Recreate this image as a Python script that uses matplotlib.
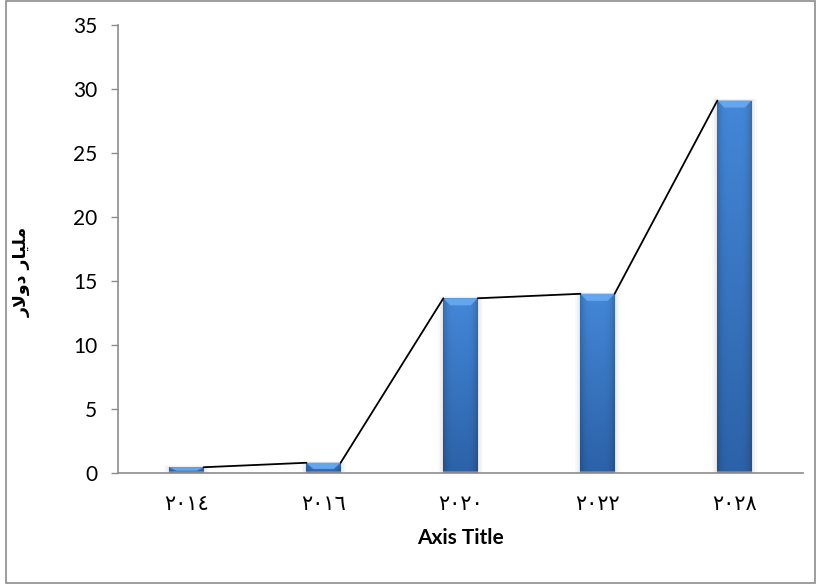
import matplotlib
matplotlib.use("Agg")
import matplotlib.pyplot as plt
import numpy as np
from matplotlib.patches import Rectangle, Polygon
from matplotlib.colors import to_rgb

# data
years = ["٢٠١٤", "٢٠١٦", "٢٠٢٠", "٢٠٢٢", "٢٠٢٨"]
values = [0.45, 0.8, 13.65, 14.0, 29.1]
y_ticks = [0, 5, 10, 15, 20, 25, 30, 35]
x_title = "Axis Title"
# "مليار دولار" pre-shaped into presentation forms, in visual order
y_title = "\ufead\ufefb\ufeed\ufea9 \ufead\ufe8e\ufef4\ufee0\ufee3"

latin = ["Lato", "DejaVu Sans"]
grey = "#8c8c8c"

fig = plt.figure(figsize=(8.17, 5.84), dpi=100)
ax = fig.add_axes([118 / 817, 111 / 584, 685 / 817, 448 / 584])

x = np.arange(len(values))
w = 0.25

top_c = np.array(to_rgb("#4487d8"))
bot_c = np.array(to_rgb("#2c62a8"))
bevel_c = "#64a6ee"

for xi, v in zip(x, values):
    # soft shadow behind each bar
    for k, a in enumerate([0.10, 0.07, 0.04]):
        pad = 0.012 * (k + 1)
        ax.add_patch(Rectangle((xi - w / 2 - pad, 0), w + 2 * pad, v + pad * 4,
                               facecolor="#7f7f7f", edgecolor="none", alpha=a, zorder=1))
    bar = ax.bar(xi, v, width=w, color="none", edgecolor="none", zorder=2)[0]

    # body gradient: darker downwards and towards the sides
    ny, nx = 60, 30
    tv = np.linspace(0, 1, ny)[:, None, None]
    col = top_c * (1 - tv) + bot_c * tv
    hx = np.linspace(-1, 1, nx)
    shade = 1 - 0.18 * np.abs(hx) ** 4
    img = np.clip(col * shade[None, :, None], 0, 1)
    im = ax.imshow(img, extent=(xi - w / 2, xi + w / 2, 0, v), origin="upper",
                   aspect="auto", interpolation="bilinear", zorder=3)
    im.set_clip_path(bar)

    # bevelled top edge
    bh = min(0.55, v * 0.6)
    inset = 0.05
    ax.add_patch(Polygon([(xi - w / 2, v), (xi + w / 2, v),
                          (xi + w / 2 - inset, v - bh), (xi - w / 2 + inset, v - bh)],
                         closed=True, facecolor=bevel_c, edgecolor="none", zorder=4))
    # grey foot at the base
    ax.add_patch(Rectangle((xi - w / 2, 0), w, 0.12, facecolor="#8a8a8a",
                           edgecolor="none", zorder=4, alpha=0.8))

# connector line from each bar's top right corner to the next bar's top left corner
for i in range(len(values) - 1):
    ax.plot([x[i] + w / 2, x[i + 1] - w / 2], [values[i], values[i + 1]],
            color="black", lw=1.3, zorder=5, solid_capstyle="round")

ax.set_xlim(-0.5, len(values) - 0.5)
ax.set_ylim(0, 35)
ax.set_yticks(y_ticks)
ax.set_yticklabels([str(t) for t in y_ticks], family=latin, fontsize=15)
ax.set_xticks(x)
ax.set_xticklabels(years, family=["DejaVu Sans"], fontsize=15)
ax.tick_params(axis="y", direction="out", length=5, width=1, color=grey, pad=10)
ax.tick_params(axis="x", length=0, pad=15)

for s in ["top", "right"]:
    ax.spines[s].set_visible(False)
for s in ["left", "bottom"]:
    ax.spines[s].set_color(grey)
    ax.spines[s].set_linewidth(1.2)
    ax.spines[s].set_zorder(6)

ax.set_xlabel(x_title, family=latin, fontsize=15, fontweight="bold", labelpad=10)
fig.text(22 / 817, 1 - 272 / 584, y_title, rotation=90, ha="center", va="center",
         family=["DejaVu Sans"], fontsize=12.5, fontweight="bold")

# chart area border
fig.patches.append(Rectangle((6 / 817, 1 / 584), 809 / 817, 582 / 584,
                             transform=fig.transFigure, fill=False,
                             edgecolor=grey, lw=1.2))

fig.savefig("out.png", dpi=100)
